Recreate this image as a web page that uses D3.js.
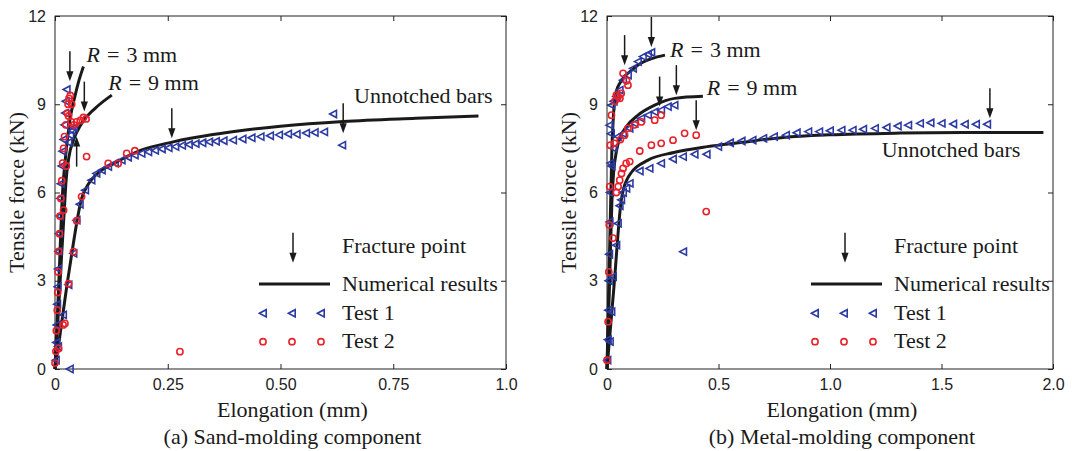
<!DOCTYPE html>
<html><head><meta charset="utf-8">
<script src="https://cdn.jsdelivr.net/npm/d3@7"></script>
<style>body{margin:0;background:#fff} svg{display:block}</style>
</head><body><svg id="chart" width="1072" height="451"></svg>
<script>
// ---------- shared ----------
const yTicks = [0, 3, 6, 9, 12];
const yTickLabels = ["0", "3", "6", "9", "12"];
const yTitle = "Tensile force (kN)";
const xTitle = "Elongation (mm)";
const legendLabels = ["Fracture point", "Numerical results", "Test 1", "Test 2"];

// ---------- (a) sand-molding ----------
const aXTicks = [0, 0.25, 0.5, 0.75, 1.0];
const aXTickLabels = ["0", "0.25", "0.50", "0.75", "1.0"];
const aCaption = "(a) Sand-molding component";
const aNumR3 = [[0,0],[0.005,1.7],[0.01,3.5],[0.015,5.5],[0.018,6.3],[0.022,7.0],[0.026,7.6],[0.033,8.46],[0.044,9.26],[0.053,9.8],[0.063,10.28]];
const aNumR9 = [[0,0],[0.007,1.8],[0.014,3.7],[0.021,5.5],[0.024,6.3],[0.031,7.22],[0.041,7.78],[0.059,8.35],[0.089,8.86],[0.126,9.31]];
const aNumUn = [[0,0],[0.011,1.15],[0.026,2.8],[0.04,4.2],[0.052,5.3],[0.059,5.8],[0.067,6.1],[0.08,6.42],[0.1,6.72],[0.13,6.98],[0.188,7.42],[0.262,7.72],[0.35,7.97],[0.41,8.1],[0.5,8.25],[0.639,8.41],[0.8,8.52],[0.939,8.6]];
const aTest1 = [
  [0.002,0.3],[0.003,0.9],[0.004,1.5],[0.005,2.2],[0.006,2.8],[0.007,3.4],[0.008,4.0],[0.009,4.6],[0.011,5.2],[0.012,5.8],[0.013,6.3],[0.015,6.9],[0.017,7.4],[0.019,7.8],[0.021,8.3],[0.023,8.7],[0.024,9.1],[0.026,9.5],
  [0.03,7.7],[0.034,7.95],[0.038,8.1],[0.042,8.2],
  [0.007,0.76],[0.018,1.84],[0.03,2.86],[0.041,3.93],[0.048,5.06],[0.055,5.6],[0.067,6.08],[0.081,6.42],[0.092,6.65],[0.104,6.76],[0.118,6.88],[0.133,7.0],[0.148,7.1],[0.162,7.2],[0.177,7.27],[0.192,7.33],[0.207,7.38],[0.222,7.43],[0.237,7.48],[0.252,7.52],[0.267,7.56],[0.282,7.6],[0.297,7.63],[0.312,7.66],[0.327,7.69],[0.342,7.72],[0.357,7.74],[0.374,7.76],[0.395,7.78],[0.416,7.82],[0.436,7.86],[0.456,7.9],[0.477,7.93],[0.497,7.96],[0.517,7.99],[0.536,7.98],[0.557,8.02],[0.576,8.04],[0.597,8.06],[0.617,8.67],[0.637,7.61],[0.033,0]
];
const aTest2 = [
  [0.0,0.2],[0.002,0.6],[0.003,1.3],[0.005,2.0],[0.006,2.6],[0.007,3.3],[0.008,4.0],[0.01,4.6],[0.011,5.2],[0.013,5.8],[0.015,6.4],[0.017,7.0],[0.019,7.5],[0.021,7.9],[0.024,8.3],[0.027,8.7],[0.029,9.0],[0.031,9.2],[0.034,9.3],[0.037,9.0],[0.03,8.6],[0.036,8.4],[0.042,8.3],[0.048,8.4],[0.056,8.45],[0.063,8.55],[0.069,8.5],[0.07,7.22],[0.022,1.55],[0.019,5.4],[0.025,6.9],
  [0.008,0.7],[0.018,1.5],[0.03,2.9],[0.041,3.99],[0.048,5.04],[0.059,5.86],[0.118,6.99],[0.14,6.99],[0.159,7.33],[0.177,7.42],[0.277,0.59]
];
// fracture arrows: [x, tip y, direction]
const aArrows = [[0.033,9.78,"down"],[0.065,8.75,"down"],[0.048,7.9,"up"],[0.259,7.84,"down"],[0.639,8.01,"down"]];

// ---------- (b) metal-molding ----------
const bXTicks = [0, 0.5, 1.0, 1.5, 2.0];
const bXTickLabels = ["0", "0.5", "1.0", "1.5", "2.0"];
const bCaption = "(b) Metal-molding component";
const bNumR3 = [[0,0],[0.005,1.7],[0.01,3.5],[0.015,5.2],[0.019,6.5],[0.022,7.5],[0.026,8.2],[0.03,8.75],[0.042,9.43],[0.06,9.75],[0.079,9.95],[0.11,10.15],[0.139,10.33],[0.2,10.55],[0.26,10.67]];
const bNumR9 = [[0,0],[0.007,1.8],[0.014,3.6],[0.022,5.69],[0.03,6.71],[0.042,7.39],[0.057,7.84],[0.087,8.24],[0.139,8.63],[0.214,8.97],[0.303,9.2],[0.43,9.27]];
const bNumUn = [[0,0],[0.032,2.87],[0.064,5.74],[0.075,6.15],[0.09,6.45],[0.109,6.68],[0.184,7.1],[0.3,7.36],[0.45,7.56],[0.6,7.7],[0.79,7.87],[1.0,7.96],[1.314,8.02],[1.6,8.04],[1.957,8.04]];
const bTest1 = [
  [0.002,0.3],[0.004,1.0],[0.006,2.0],[0.008,3.0],[0.01,3.9],[0.012,5.0],[0.014,6.0],[0.016,7.0],[0.018,8.0],[0.02,8.97],[0.03,9.1],[0.042,9.26],[0.057,9.48],[0.072,9.82],[0.094,9.99],[0.117,10.22],[0.139,10.45],[0.161,10.62],[0.184,10.7],[0.199,10.76],
  [0.012,8.29],[0.02,6.9],[0.03,7.5],[0.049,7.9],[0.072,8.0],[0.101,8.18],[0.124,8.35],[0.154,8.52],[0.184,8.63],[0.214,8.74],[0.243,8.8],[0.273,8.92],[0.303,8.97],
  [0.013,0.93],[0.02,1.95],[0.027,3.14],[0.042,4.21],[0.049,4.95],[0.057,5.55],[0.064,5.75],[0.072,6.0],[0.087,6.14],[0.102,6.31],[0.147,6.73],[0.191,6.82],[0.243,6.99],[0.296,7.14],[0.341,7.22],[0.393,7.3],[0.447,7.3],[0.499,7.56],[0.552,7.69],[0.604,7.75],[0.653,7.78],[0.701,7.84],[0.749,7.9],[0.803,7.95],[0.851,8.03],[0.903,8.07],[0.952,8.07],[1.0,8.1],[1.052,8.12],[1.102,8.12],[1.149,8.15],[1.202,8.18],[1.254,8.21],[1.304,8.26],[1.351,8.29],[1.404,8.35],[1.451,8.37],[1.501,8.35],[1.553,8.33],[1.605,8.32],[1.655,8.32],[1.705,8.32],[0.342,3.99]
];
const bTest2 = [
  [0.0,0.3],[0.005,1.61],[0.008,3.3],[0.01,4.9],[0.012,6.2],[0.015,7.61],[0.02,8.63],[0.035,9.1],[0.042,9.31],[0.05,9.26],[0.058,9.2],[0.064,9.37],[0.072,10.05],[0.088,9.8],[0.094,9.65],
  [0.027,4.45],[0.034,7.67],[0.06,7.8],[0.079,7.95],[0.094,8.18],[0.124,8.3],[0.154,8.4],[0.214,8.46],[0.243,8.63],
  [0.042,6.0],[0.05,6.2],[0.057,6.42],[0.065,6.65],[0.072,6.82],[0.086,6.99],[0.102,7.05],[0.147,7.41],[0.199,7.61],[0.243,7.67],[0.296,7.78],[0.348,8.01],[0.40,7.95],[0.445,5.35]
];
const bArrows = [[0.079,10.33,"down"],[0.199,10.95,"down"],[0.236,8.92,"down"],[0.311,9.31,"down"],[0.40,8.12,"down"],[1.717,8.52,"down"]];

// ---------- drawing ----------
const svg = d3.select("#chart");
const SERIF = "'Liberation Serif','Times New Roman',serif";
const SANS = "'Liberation Sans',Arial,sans-serif";
const BLUE = "#2b3aa3", RED = "#e8212b", INK = "#1a1a1a";

function triPath(cx, cy){ return `M${cx-3.6},${cy}L${cx+3.2},${cy-3.6}L${cx+3.2},${cy+3.6}Z`; }

function arrow(g, tx, ty, dir){
  const L = 30, hl = 10, hw = 3.6;
  const s = dir === "down" ? -1 : 1;      // tail offset sign
  g.append("line").attr("x1", tx).attr("x2", tx).attr("y1", ty + s*L).attr("y2", ty + s*(hl-1))
    .attr("stroke", INK).attr("stroke-width", 1.5);
  g.append("path").attr("d", `M${tx-hw},${ty+s*hl}L${tx+hw},${ty+s*hl}L${tx},${ty}Z`).attr("fill", INK);
}

function rLabel(g, x, y, val){
  const t = g.append("text").attr("x", x).attr("y", y).attr("font-family", SERIF).attr("font-size", 22).attr("fill", INK);
  t.append("tspan").attr("font-style", "italic").text("R");
  t.append("tspan").attr("dx", 7).text("=");
  t.append("tspan").attr("dx", 7).text(val + " mm");
}

function panel(cfg){
  const x = d3.scaleLinear().domain([0, cfg.xMax]).range([cfg.l, cfg.r]);
  const y = d3.scaleLinear().domain([0, 12]).range([cfg.b, cfg.t]);
  const g = svg.append("g");

  // frame
  g.append("rect").attr("x", cfg.l).attr("y", cfg.t).attr("width", cfg.r-cfg.l).attr("height", cfg.b-cfg.t)
    .attr("fill", "none").attr("stroke", "#222").attr("stroke-width", 1);

  // axes with inward ticks (mirrored)
  const fmtX = (d,i) => cfg.xLabels[i];
  const bottom = g.append("g").attr("transform", `translate(0,${cfg.b})`)
    .call(d3.axisBottom(x).tickValues(cfg.xTicks).tickFormat(fmtX).tickSizeInner(-5).tickSizeOuter(0).tickPadding(10));
  const top = g.append("g").attr("transform", `translate(0,${cfg.t})`)
    .call(d3.axisTop(x).tickValues(cfg.xTicks).tickFormat("").tickSizeInner(-5).tickSizeOuter(0));
  const left = g.append("g").attr("transform", `translate(${cfg.l},0)`)
    .call(d3.axisLeft(y).tickValues(yTicks).tickFormat((d,i)=>yTickLabels[i]).tickSizeInner(-5).tickSizeOuter(0).tickPadding(9));
  const right = g.append("g").attr("transform", `translate(${cfg.r},0)`)
    .call(d3.axisRight(y).tickValues(yTicks).tickFormat("").tickSizeInner(-5).tickSizeOuter(0));
  [bottom, top, left, right].forEach(a => {
    a.select(".domain").remove();
    a.selectAll("line").attr("stroke", "#222");
    a.selectAll("text").attr("font-family", SANS).attr("font-size", 16).attr("fill", "#222");
  });

  // numerical curves
  const line = d3.line().x(d => x(d[0])).y(d => y(d[1])).curve(d3.curveMonotoneX);
  [cfg.r3, cfg.r9, cfg.un].forEach(c => {
    g.append("path").attr("d", line(c)).attr("fill", "none").attr("stroke", INK)
      .attr("stroke-width", 3).attr("stroke-linejoin", "round").attr("stroke-linecap", "butt");
  });

  // test points
  g.append("g").selectAll("path").data(cfg.t1).join("path")
    .attr("d", d => triPath(x(d[0]), y(d[1]))).attr("fill", "none").attr("stroke", BLUE).attr("stroke-width", 1.6);
  g.append("g").selectAll("circle").data(cfg.t2).join("circle")
    .attr("cx", d => x(d[0])).attr("cy", d => y(d[1])).attr("r", 3.1)
    .attr("fill", "none").attr("stroke", RED).attr("stroke-width", 1.6);

  // fracture arrows
  cfg.arrows.forEach(a => arrow(g, x(a[0]), y(a[1]), a[2]));

  // annotations
  rLabel(g, x(cfg.r3Lab[0]), y(cfg.r3Lab[1]), 3);
  rLabel(g, x(cfg.r9Lab[0]), y(cfg.r9Lab[1]), 9);
  g.append("text").attr("x", x(cfg.unLab[0])).attr("y", y(cfg.unLab[1]))
    .attr("font-family", SERIF).attr("font-size", 22).attr("fill", INK).text("Unnotched bars");

  // legend
  const lx = cfg.l + 208, tx = cfg.l + 287;
  arrow(g, cfg.l + 238, 262.7, "down");
  g.append("line").attr("x1", cfg.l + 204).attr("x2", cfg.l + 275).attr("y1", 284).attr("y2", 284)
    .attr("stroke", INK).attr("stroke-width", 3);
  [0, 29, 58].forEach(dx => {
    g.append("path").attr("d", triPath(lx + dx, 313.3)).attr("fill", "none").attr("stroke", BLUE).attr("stroke-width", 1.6);
    g.append("circle").attr("cx", lx + dx).attr("cy", 341.7).attr("r", 3.1).attr("fill", "none").attr("stroke", RED).attr("stroke-width", 1.6);
  });
  const lyBase = [252.7, 290.7, 320, 348.3];
  legendLabels.forEach((s, i) => {
    g.append("text").attr("x", tx).attr("y", lyBase[i]).attr("font-family", SERIF).attr("font-size", 22).attr("fill", INK).text(s);
  });

  // titles
  const cx = (cfg.l + cfg.r) / 2 + 12;
  g.append("text").attr("x", cx).attr("y", 417).attr("text-anchor", "middle")
    .attr("font-family", SERIF).attr("font-size", 22).attr("fill", INK).text(xTitle);
  g.append("text").attr("x", cx).attr("y", 444).attr("text-anchor", "middle")
    .attr("font-family", SERIF).attr("font-size", 22).attr("fill", INK).text(cfg.caption);
  g.append("text").attr("transform", `translate(${cfg.l - 31},${(cfg.t + cfg.b)/2}) rotate(-90)`)
    .attr("text-anchor", "middle").attr("font-family", SERIF).attr("font-size", 22).attr("fill", INK).text(yTitle);
}

panel({l:55, r:506, t:16, b:369, xMax:1.0, xTicks:aXTicks, xLabels:aXTickLabels,
  r3:aNumR3, r9:aNumR9, un:aNumUn, t1:aTest1, t2:aTest2, arrows:aArrows,
  r3Lab:[0.07,10.44], r9Lab:[0.118,9.48], unLab:[0.663,9.05], caption:aCaption});
panel({l:607, r:1053, t:16, b:369, xMax:2.0, xTicks:bXTicks, xLabels:bXTickLabels,
  r3:bNumR3, r9:bNumR9, un:bNumUn, t1:bTest1, t2:bTest2, arrows:bArrows,
  r3Lab:[0.283,10.62], r9Lab:[0.447,9.31], unLab:[1.232,7.2], caption:bCaption});
</script>
</body></html>
